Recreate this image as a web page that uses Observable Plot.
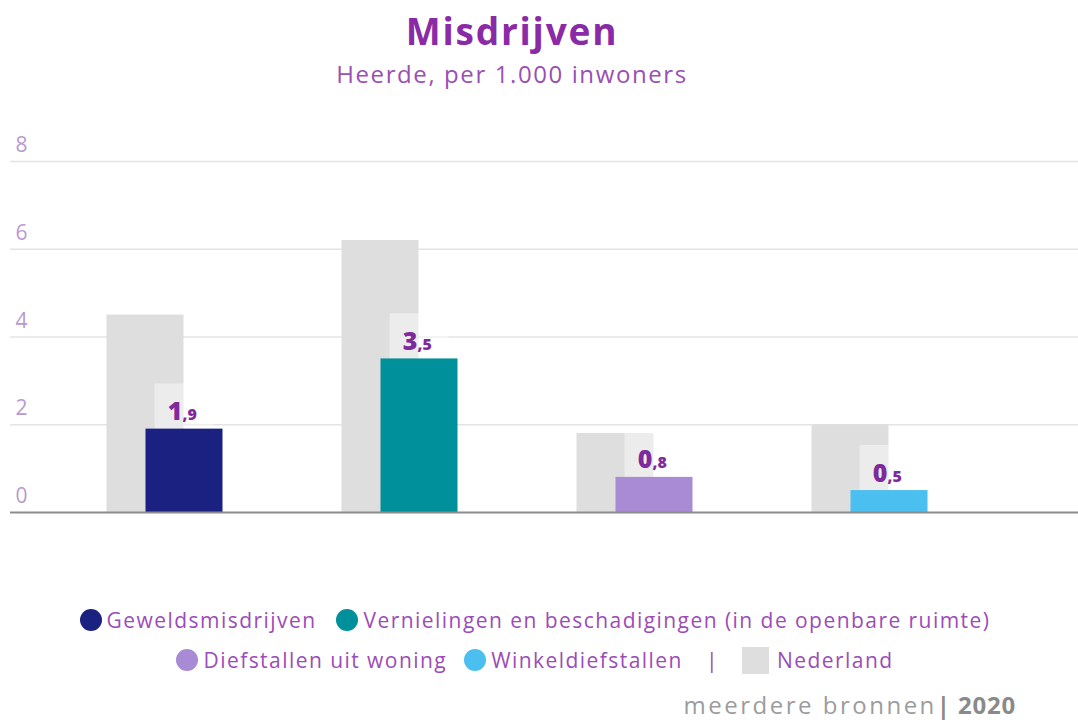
<!DOCTYPE html>
<html>
<head>
<meta charset="utf-8">
<script src="https://cdn.jsdelivr.net/npm/d3@7"></script>
<script src="https://cdn.jsdelivr.net/npm/@observablehq/plot@0.6"></script>
<style>
  html, body { margin: 0; padding: 0; background: #fff; }
  body { width: 1078px; height: 720px; position: relative; overflow: hidden; font-family: "Open Sans", sans-serif; }
  #title { position: absolute; left: 0; top: 5px; width: 1024px; text-align: center; font-size: 37px; font-weight: 700; color: #8a2aa6; letter-spacing: 1.8px; }
  #subtitle { position: absolute; left: 0; top: 57px; width: 1024px; text-align: center; font-size: 24px; font-weight: 400; color: #9a4fb3; letter-spacing: 1.6px; }
  #chart { position: absolute; left: 0; top: 0; }
  .legend-row { position: absolute; left: 0; width: 1070px; display: flex; justify-content: center; align-items: center; gap: 20px; font-family: "Open Sans", sans-serif; font-size: 21px; letter-spacing: 1.45px; color: #9b4cb8; }
  .item { display: flex; align-items: center; gap: 5px; }
  .dot { width: 22px; height: 22px; border-radius: 50%; display: inline-block; }
  .sq { width: 27px; height: 27px; background: #dedede; display: inline-block; margin-right: 3px; }
  .sep { color: #9b4cb8; margin: 0 6px; }
  #row2 { gap: 17px; }
  #footer { position: absolute; right: 62px; top: 688px; font-size: 24px; color: #9c9c9c; font-weight: 400; letter-spacing: 2.5px; }
  #footer b { color: #8a8a8a; font-weight: 700; letter-spacing: 0.8px; }
</style>
</head>
<body>
<div id="title">Misdrijven</div>
<div id="subtitle">Heerde, per 1.000 inwoners</div>
<div id="chart"></div>
<div class="legend-row" id="row1" style="top:606px"></div>
<div class="legend-row" id="row2" style="top:646px"></div>
<div id="footer">meerdere bronnen<b>| 2020</b></div>
<script>
// Data
const categories = ["Geweldsmisdrijven", "Vernielingen en beschadigingen (in de openbare ruimte)", "Diefstallen uit woning", "Winkeldiefstallen"];
const heerde = [1.9, 3.5, 0.8, 0.5];
const nederland = [4.5, 6.2, 1.8, 2.0];
const colors = ["#1b2180", "#00909b", "#a98ad4", "#4bbff0"];
const yTicks = [0, 2, 4, 6, 8];
const legendRows = [[0, 1], [2, 3]];

const data = categories.map((c, i) => ({
  cat: c,
  heerde: heerde[i],
  nl: nederland[i],
  whole: String(Math.floor(heerde[i])),
  frac: "," + String(Math.round((heerde[i] % 1) * 10))
}));

const step = 235.67, bw = 77, p = 1 - bw / step;
const r0 = 163 - step * (1 + p) / 2;
const r1 = r0 + step * (categories.length + p);
const off = 19.5;
const labelColor = "#7f2a9c";

const chart = Plot.plot({
  width: 1078,
  height: 540,
  marginTop: 161,
  marginBottom: 28,
  marginLeft: 10,
  marginRight: 0,
  style: { fontFamily: "Open Sans, sans-serif", background: "transparent" },
  x: { domain: categories, range: [r0, r1], padding: p, axis: null },
  y: { domain: [0, 8], axis: null },
  color: { domain: categories, range: colors },
  marks: [
    Plot.gridY(yTicks.filter(t => t > 0), { stroke: "#e4e4e4", strokeOpacity: 1, strokeWidth: 1.5 }),
    Plot.axisY(yTicks, { tickSize: 0, textAnchor: "start", dx: 8, dy: -16, fontSize: 21, fill: "#bb98d2", tickPadding: 3 }),
    Plot.barY(data, { x: "cat", y: "nl", fill: "#dedede", dx: -off }),
    Plot.barY(data, { x: "cat", y1: "heerde", y2: d => d.heerde + 1.03, fill: "#ffffff", fillOpacity: 0.42, insetLeft: 9, insetRight: 9, dx: off }),
    Plot.barY(data, { x: "cat", y: "heerde", fill: "cat", dx: off }),
    Plot.ruleY([0], { stroke: "#8c8c8c", strokeWidth: 2 }),
    Plot.text(data, { x: "cat", y: "heerde", text: "whole", textAnchor: "end", lineAnchor: "bottom", dx: off - 2, dy: -9, fontSize: 25, fontWeight: 800, fill: labelColor }),
    Plot.text(data, { x: "cat", y: "heerde", text: "frac", textAnchor: "start", lineAnchor: "bottom", dx: off - 2, dy: -9, fontSize: 16, fontWeight: 800, fill: labelColor })
  ]
});
document.getElementById("chart").appendChild(chart);

// Legend
function item(i) {
  return `<span class="item"><span class="dot" style="background:${colors[i]}"></span>${categories[i]}</span>`;
}
document.getElementById("row1").innerHTML = legendRows[0].map(item).join("");
document.getElementById("row2").innerHTML = legendRows[1].map(item).join("") +
  `<span class="sep">|</span><span class="item"><span class="sq"></span>Nederland</span>`;
</script>
</body>
</html>
